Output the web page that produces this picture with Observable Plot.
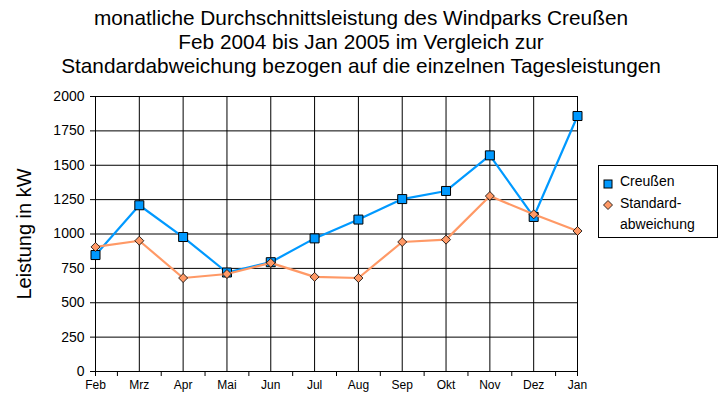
<!DOCTYPE html>
<html>
<head>
<meta charset="utf-8">
<script src="https://cdn.jsdelivr.net/npm/d3@7"></script>
<script src="https://cdn.jsdelivr.net/npm/@observablehq/plot@0.6"></script>
<style>
  body { margin: 0; background: #fff; font-family: Arial, "Liberation Sans", sans-serif; }
  #wrap { position: relative; width: 727px; height: 405px; overflow: hidden; background: #fff; }
  #wrap svg { position: absolute; left: 0; top: 0; }
  #title { position: absolute; left: 0; top: 6px; width: 722px; text-align: center; font-size: 20.8px; line-height: 24px; color: #000; }
  #legend { position: absolute; left: 598px; top: 165px; width: 120px; height: 73px; border: 1px solid #000; background: #fff; box-sizing: border-box; font-size: 14px; }
  #legend svg.sym { position: absolute; }
  .item { position: absolute; left: 21px; line-height: 21px; }
</style>
</head>
<body>
<div id="wrap">
  <div id="title">monatliche Durchschnittsleistung des Windparks Creußen<br>Feb 2004 bis Jan 2005 im Vergleich zur<br>Standardabweichung bezogen auf die einzelnen Tagesleistungen</div>
  <svg id="ytitle" width="60" height="405" style="position:absolute;left:0;top:0"><text transform="translate(31,234) rotate(-90)" text-anchor="middle" font-size="20" font-family="Arial, 'Liberation Sans', sans-serif">Leistung in kW</text></svg>
  <div id="legend">
    <svg class="sym" style="left:3px;top:12px" width="12" height="12"><rect x="2" y="2" width="8" height="8" fill="#0099ff" stroke="#000" stroke-width="1"/></svg>
    <div class="item" style="top:5px">Creußen</div>
    <svg class="sym" style="left:3px;top:33px" width="12" height="12"><path d="M6,1.5L10.5,6L6,10.5L1.5,6Z" fill="#ff9966" stroke="#000" stroke-width="0.8"/></svg>
    <div class="item" style="top:27px">Standard-<br>abweichung</div>
  </div>
</div>
<script>
const months = ["Feb","Mrz","Apr","Mai","Jun","Jul","Aug","Sep","Okt","Nov","Dez","Jan"];
const creussen = [847, 1209, 978, 720, 795, 968, 1105, 1254, 1313, 1572, 1124, 1858];
const standardabweichung = [906, 951, 680, 709, 790, 688, 680, 942, 959, 1276, 1143, 1022];
const yTicks = [0, 250, 500, 750, 1000, 1250, 1500, 1750, 2000];

const rows = months.map((m, i) => ({i, month: m, creussen: creussen[i], std: standardabweichung[i]}));
const idx = d3.range(months.length);
const minorTicks = [0, ...d3.range(0.5, months.length - 1, 1), months.length - 1];

const squareSym = { draw(ctx, size) { const r = Math.sqrt(size / Math.PI); ctx.moveTo(-r, -r); ctx.lineTo(r, -r); ctx.lineTo(r, r); ctx.lineTo(-r, r); ctx.closePath(); } };
const diamondSym = { draw(ctx, size) { const r = Math.sqrt(size / Math.PI); ctx.moveTo(0, -r); ctx.lineTo(r, 0); ctx.lineTo(0, r); ctx.lineTo(-r, 0); ctx.closePath(); } };

const chart = Plot.plot({
  width: 727,
  height: 405,
  marginTop: 96,
  marginBottom: 34,
  marginLeft: 95,
  marginRight: 150,
  style: { fontFamily: "Arial, 'Liberation Sans', sans-serif", color: "#000", background: "transparent" },
  x: { type: "linear", domain: [0, months.length - 1] },
  y: { domain: [0, 2000] },
  marks: [
    Plot.gridY(yTicks, { stroke: "#000", strokeOpacity: 1, strokeWidth: 1 }),
    Plot.gridX(idx, { stroke: "#000", strokeOpacity: 1, strokeWidth: 1 }),
    Plot.ruleX([0], { stroke: "#000" }),
    Plot.ruleY([0], { stroke: "#000" }),
    Plot.axisY({ ticks: yTicks, tickSize: 5, tickPadding: 6, fontSize: 14, label: null, tickFormat: d => String(d) }),
    Plot.axisX({ ticks: minorTicks, tickSize: 5, tickFormat: () => "", label: null }),
    Plot.axisX({ ticks: idx, tickSize: 0, tickPadding: 9, fontSize: 12, label: null, tickFormat: i => months[i] }),
    Plot.line(rows, { x: "i", y: "creussen", stroke: "#0099ff", strokeWidth: 2.2 }),
    Plot.dot(rows, { x: "i", y: "creussen", symbol: squareSym, r: 4.5, fill: "#0099ff", stroke: "#000", strokeWidth: 1 }),
    Plot.line(rows, { x: "i", y: "std", stroke: "#ff9966", strokeWidth: 2.2 }),
    Plot.dot(rows, { x: "i", y: "std", symbol: diamondSym, r: 4.5, fill: "#ff9966", stroke: "#000", strokeWidth: 0.8 })
  ]
});
document.getElementById("wrap").insertBefore(chart, document.getElementById("title"));
</script>
</body>
</html>
